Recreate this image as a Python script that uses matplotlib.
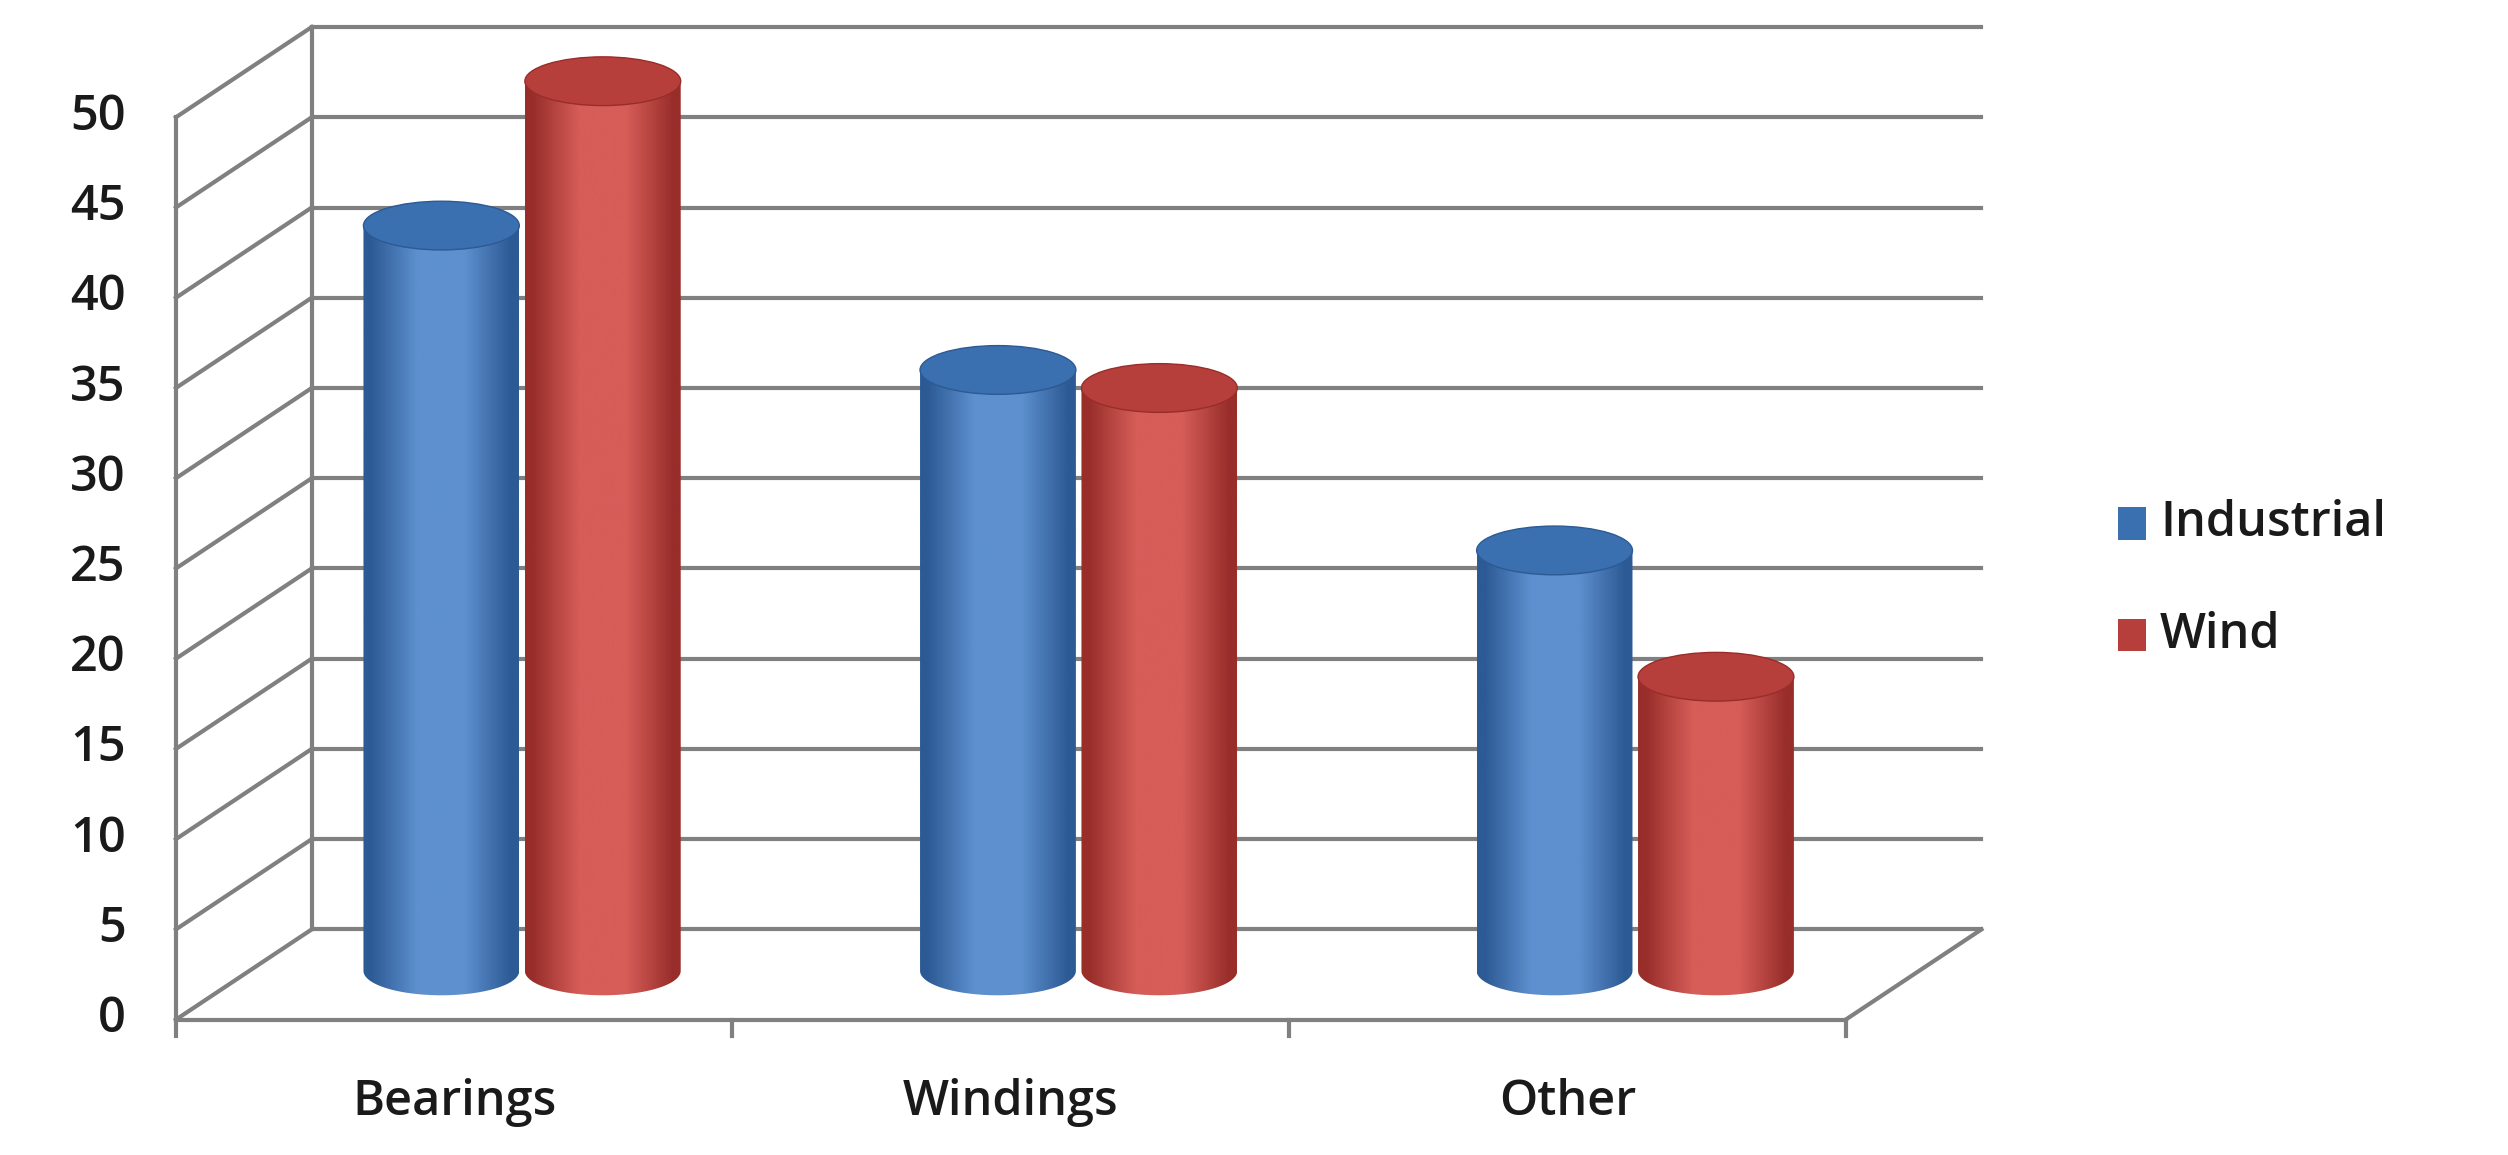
import numpy as np
import matplotlib.pyplot as plt
from matplotlib.patches import Rectangle, Ellipse, Polygon
from matplotlib.colors import LinearSegmentedColormap

plt.rcParams['font.family'] = ['Open Sans', 'DejaVu Sans']

categories = ['Bearings', 'Windings', 'Other']
series = ['Industrial', 'Wind']
values = {'Industrial': [42, 34, 24], 'Wind': [50, 33, 17]}
yticks = list(range(0, 55, 5))

colors = {'Industrial': ('#2c5a94', '#5e90cf', '#3a6fb0'),
          'Wind': ('#982d2a', '#d65d58', '#b73f3b')}

fig = plt.figure(figsize=(25.08, 11.55), dpi=100)
ax = fig.add_axes([0, 0, 1, 1])
ax.axis('off')

dx, dy = 0.244, 5
n = len(categories)
grid_c = '#808080'
fs = 35
for v in yticks:
    ax.plot([dx, n + dx], [v + dy, v + dy], color=grid_c, lw=3, zorder=1)
    ax.plot([0, dx], [v, v + dy], color=grid_c, lw=3, zorder=1)
    ax.text(-0.09, v, str(v), ha='right', va='center', fontsize=fs, fontweight='semibold', color='#1a1a1a')
ax.plot([dx, dx], [dy, 50 + dy], color=grid_c, lw=3, zorder=1)
ax.plot([0, 0], [0, 50], color=grid_c, lw=3, zorder=1)
ax.plot([0, n], [0, 0], color=grid_c, lw=3, zorder=1)
ax.plot([n, n + dx], [0, dy], color=grid_c, lw=3, zorder=1)
for i in range(n + 1):
    ax.plot([i, i], [0, -0.9], color=grid_c, lw=3, zorder=1)
for i, c in enumerate(categories):
    ax.text(i + 0.5, -4.6, c, ha='center', va='center', fontsize=fs, fontweight='semibold', color='#1a1a1a')

w = 0.28
eh = 2.7
base = 2.7
for i in range(n):
    for j, s in enumerate(series):
        xc = i + 0.5 + dx / 2 + (j - 0.5) * 0.29
        top = values[s][i] + 2
        dark, light, topc = colors[s]
        cmap = LinearSegmentedColormap.from_list(s, [dark, light, light, dark], N=256)
        z = 3 + j
        t = np.linspace(np.pi, 2 * np.pi, 60)
        bx = xc + w / 2 * np.cos(t)
        by = base + eh / 2 * np.sin(t)
        verts = [(xc - w / 2, top)] + list(zip(bx, by)) + [(xc + w / 2, top), (xc - w / 2, top)]
        poly = Polygon(verts, closed=True, facecolor='none', edgecolor='none', zorder=z)
        ax.add_patch(poly)
        grad = np.linspace(0, 1, 256).reshape(1, -1)
        grad = np.clip(grad * 1.1 - 0.05, 0, 1)
        im = ax.imshow(grad, cmap=cmap, aspect='auto', zorder=z,
                       extent=[xc - w / 2, xc + w / 2, base - eh, top], origin='lower')
        im.set_clip_path(poly)
        ax.add_patch(Ellipse((xc, top), w, eh, facecolor=topc, edgecolor=dark, lw=1, zorder=z + 0.5))

for k, s in enumerate(series):
    yy = 27.5 - k * 6.2
    ax.add_patch(Rectangle((3.49, yy - 0.9), 0.05, 1.8, facecolor=colors[s][2], edgecolor='none'))
    ax.text(3.565, yy, s, ha='left', va='center', fontsize=fs, fontweight='semibold', color='#1a1a1a')

ax.set_xlim(-0.316, 4.19)
ax.set_ylim(-7.5, 56.5)
fig.savefig('out.png', dpi=100)
